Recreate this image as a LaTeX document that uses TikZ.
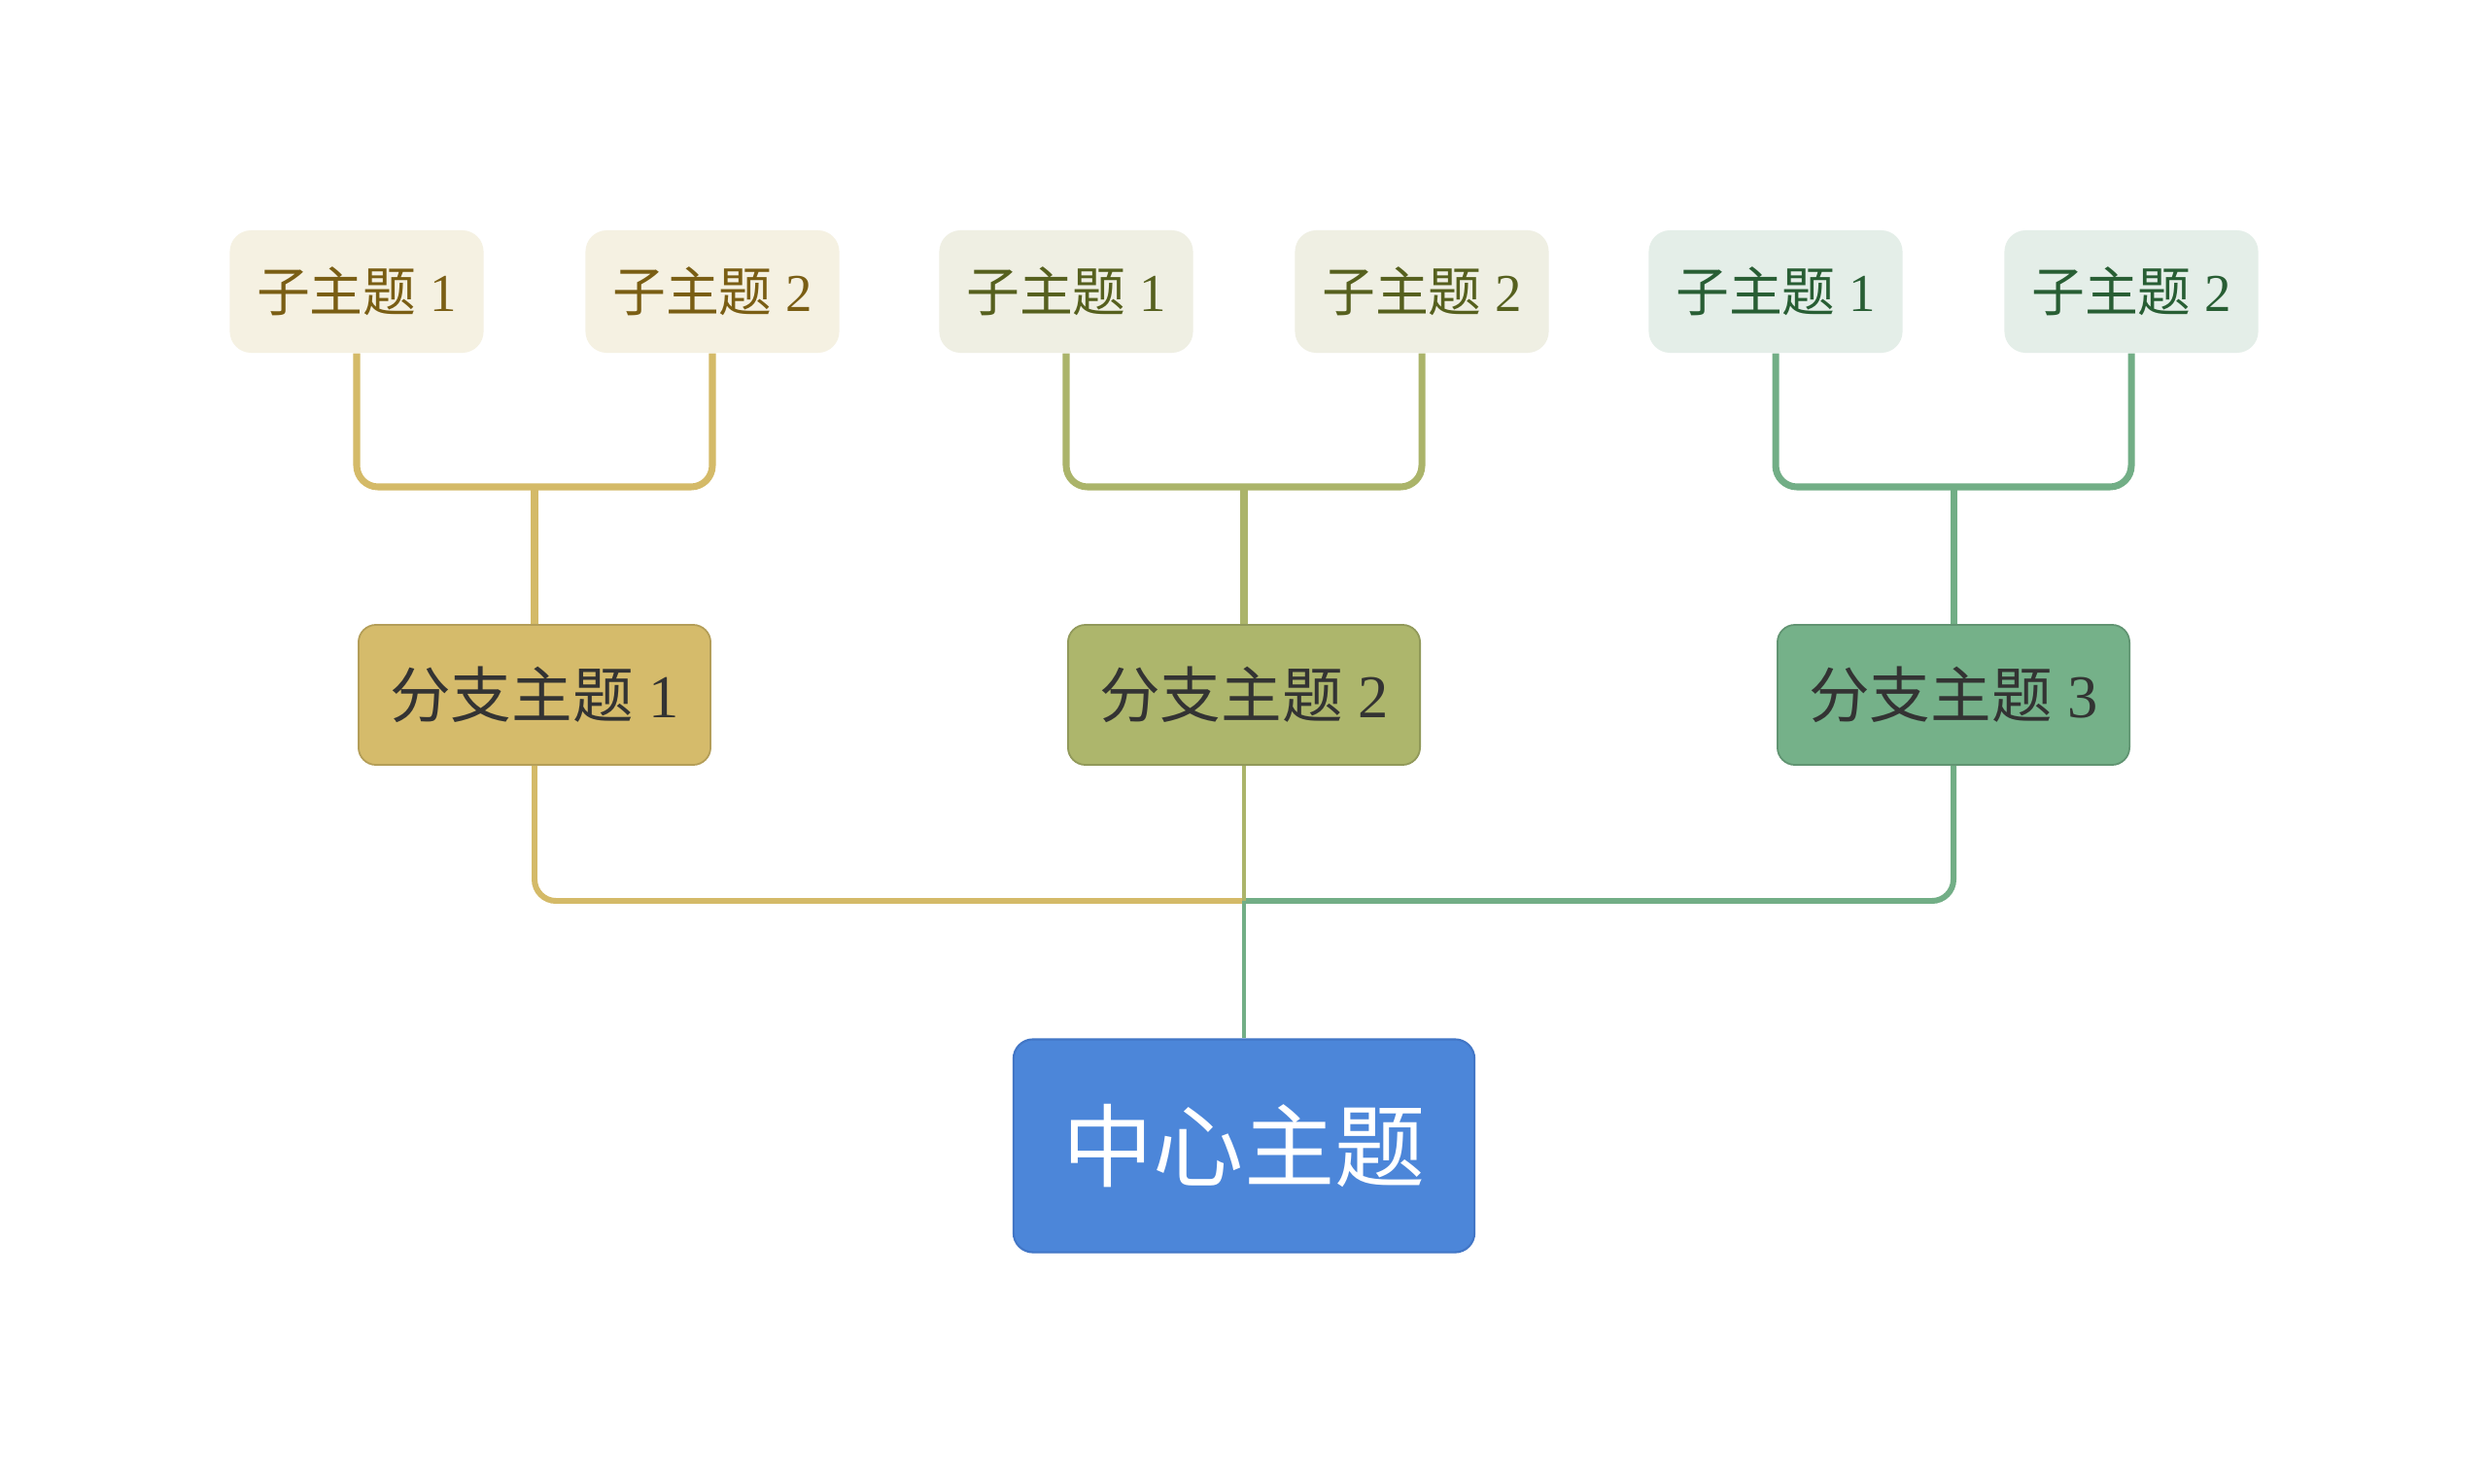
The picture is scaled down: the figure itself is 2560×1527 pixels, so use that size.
\documentclass[tikz,border=0pt]{standalone}
\usepackage{fontspec}
\setmainfont{Liberation Serif}
\newfontfamily\cjk{Noto Sans CJK SC}
\definecolor{goldline}{HTML}{D4BA68}
\definecolor{goldfill}{HTML}{D5BB6B}
\definecolor{goldsub}{HTML}{F5F1E2}
\definecolor{goldtext}{HTML}{7A5E14}
\definecolor{oliveline}{HTML}{ABB46A}
\definecolor{olivefill}{HTML}{ADB66C}
\definecolor{olivesub}{HTML}{EFEFE3}
\definecolor{olivetext}{HTML}{56601E}
\definecolor{greenline}{HTML}{72AE86}
\definecolor{greenfill}{HTML}{75B189}
\definecolor{greensub}{HTML}{E4EEE8}
\definecolor{greentext}{HTML}{285E34}
\definecolor{centerfill}{HTML}{4C86D9}
\definecolor{centerdraw}{HTML}{4276C6}
\definecolor{branchtext}{HTML}{333333}
\tikzset{
  subbox/.style={rounded corners=0.22cm, minimum width=2.61cm, minimum height=1.26cm, inner sep=0pt, align=center, font=\fontsize{15.6pt}{18pt}\selectfont},
  branchbox/.style={rounded corners=0.18cm, minimum width=3.62cm, minimum height=1.44cm, inner sep=0pt, align=center, text=branchtext, font=\fontsize{17.8pt}{21pt}\selectfont},
  centerbox/.style={rounded corners=0.2cm, minimum width=4.74cm, minimum height=2.19cm, inner sep=0pt, fill=centerfill, draw=centerdraw, line width=0.6pt, text=white, font=\fontsize{26.5pt}{30pt}\selectfont\cjk},
  conn/.style={line width=2pt, rounded corners=0.22cm},
  lowconn/.style={line width=1.7pt, rounded corners=0.22cm},
}
\begin{document}
\begin{tikzpicture}[x=0.01cm,y=0.01cm]
\useasboundingbox[fill=white] (0,0) rectangle (2560,-1527);
% subtopics
\node[subbox, fill=goldsub, text=goldtext] (s11) at (367,-300) {{\cjk 子主题} 1};
\node[subbox, fill=goldsub, text=goldtext] (s12) at (733,-300) {{\cjk 子主题} 2};
\node[subbox, fill=olivesub, text=olivetext] (s21) at (1097,-300) {{\cjk 子主题} 1};
\node[subbox, fill=olivesub, text=olivetext] (s22) at (1463,-300) {{\cjk 子主题} 2};
\node[subbox, fill=greensub, text=greentext] (s31) at (1827,-300) {{\cjk 子主题} 1};
\node[subbox, fill=greensub, text=greentext] (s32) at (2193,-300) {{\cjk 子主题} 2};
% branches
\node[branchbox, fill=goldfill, draw=goldline!85!black, line width=0.5pt] (b1) at (550,-715) {{\cjk 分支主题} 1};
\node[branchbox, fill=olivefill, draw=oliveline!85!black, line width=0.5pt] (b2) at (1280,-715) {{\cjk 分支主题} 2};
\node[branchbox, fill=greenfill, draw=greenline!85!black, line width=0.5pt] (b3) at (2010,-715) {{\cjk 分支主题} 3};
% center
\node[centerbox] (c) at (1280,-1179) {中心主题};
% junctions
\coordinate (j1) at (550,-501);
\coordinate (j2) at (1280,-501);
\coordinate (j3) at (2010,-501);
\coordinate (jc) at (1280,-927);
% upper connectors
\draw[conn, goldline] (s11.south) |- (j1) -| (s12.south);
\draw[conn, goldline] (j1) -- (b1.north);
\draw[conn, oliveline] (s21.south) |- (j2) -| (s22.south);
\draw[conn, oliveline] (j2) -- (b2.north);
\draw[conn, greenline] (s31.south) |- (j3) -| (s32.south);
\draw[conn, greenline] (j3) -- (b3.north);
% lower connectors
\draw[lowconn, goldline] (b1.south) |- (jc);
\draw[lowconn, greenline] (b3.south) |- (jc);
\draw[lowconn, oliveline, line width=1.3pt] (b2.south) -- (jc);
\draw[lowconn, greenline, line width=1.4pt] (jc) -- (c.north);
\end{tikzpicture}
\end{document}
